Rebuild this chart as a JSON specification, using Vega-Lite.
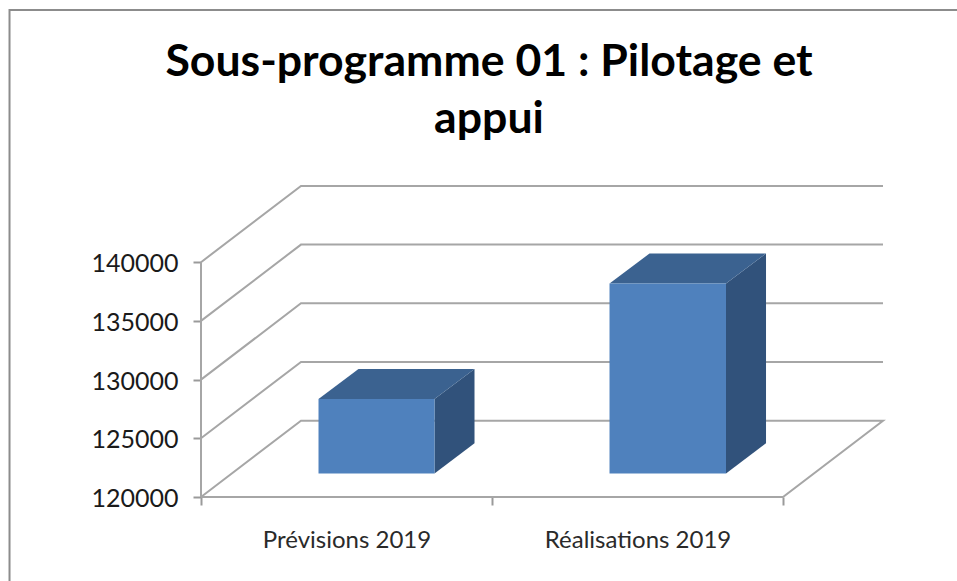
{
"$schema":"https://vega.github.io/schema/vega-lite/v6.json",
"width":682,"height":310,
"autosize":{"type":"none"},
"padding":{"left":201,"top":187,"right":74,"bottom":84},
"background":"white",
"view":{"stroke":null},
"title":{"text":["Sous-programme 01 : Pilotage et","appui"],"font":"Lato","fontWeight":"bold","fontSize":44.6,"lineHeight":57,"color":"#000000","anchor":"middle","frame":"group","dx":-53,"offset":-137},
"datasets":{
"lines":[
{"line":"border","seq":1,"x":-0.658,"y":112000},{"line":"border","seq":2,"x":-0.658,"y":161478},{"line":"border","seq":3,"x":2.6,"y":161478},
{"line":"floor","seq":1,"x":0,"y":120000},{"line":"floor","seq":2,"x":0.3436,"y":126500},{"line":"floor","seq":3,"x":2.3436,"y":126500},{"line":"floor","seq":4,"x":2,"y":120000},{"line":"floor","seq":5,"x":0,"y":120000},
{"line":"g125","seq":1,"x":0,"y":125000},{"line":"g125","seq":2,"x":0.3436,"y":131500},{"line":"g125","seq":3,"x":2.3436,"y":131500},
{"line":"g130","seq":1,"x":0,"y":130000},{"line":"g130","seq":2,"x":0.3436,"y":136500},{"line":"g130","seq":3,"x":2.3436,"y":136500},
{"line":"g135","seq":1,"x":0,"y":135000},{"line":"g135","seq":2,"x":0.3436,"y":141500},{"line":"g135","seq":3,"x":2.3436,"y":141500},
{"line":"g140","seq":1,"x":0,"y":140000},{"line":"g140","seq":2,"x":0.3436,"y":146500},{"line":"g140","seq":3,"x":2.3436,"y":146500},
{"line":"yaxis","seq":1,"x":0,"y":120000},{"line":"yaxis","seq":2,"x":0,"y":140000}
],
"frontFaces":[
{"category":"Prévisions 2019","x":0.4038,"x2":0.8024,"y":122001,"y2":128347},
{"category":"Réalisations 2019","x":1.4038,"x2":1.8041,"y":122001,"y2":138184}
],
"sideFaces":[
{"category":"Prévisions 2019","x":0.8024,"y":122001,"y2":128347},{"category":"Prévisions 2019","x":0.9399,"y":124574,"y2":130902},
{"category":"Réalisations 2019","x":1.8041,"y":122001,"y2":138184},{"category":"Réalisations 2019","x":1.9416,"y":124574,"y2":140739}
],
"topFaces":[
{"category":"Prévisions 2019","y":128347,"x":0.4038,"x2":0.8024},{"category":"Prévisions 2019","y":130902,"x":0.5412,"x2":0.9399},
{"category":"Réalisations 2019","y":138184,"x":1.4038,"x2":1.8041},{"category":"Réalisations 2019","y":140739,"x":1.5412,"x2":1.9416}
]
},
"encoding":{
"x":{"field":"x","type":"quantitative","title":null,"scale":{"domain":[0,2.3436],"nice":false,"zero":false},
"axis":{"values":[0,0.5,1,1.5,2],"grid":false,"domain":false,"tickSize":8,"tickWidth":2,"tickColor":"#9a9a9a","tickOpacity":{"condition":{"test":"datum.value==0.5||datum.value==1.5","value":0},"value":1},"labelExpr":"datum.value==0.5?'Prévisions 2019':datum.value==1.5?'Réalisations 2019':''","labelFont":"Lato","labelFontSize":24,"labelColor":"#2a2a2a","labelPadding":23,"labelLimit":400,"labelOverlap":false,"labelFlush":false}},
"y":{"field":"y","type":"quantitative","title":null,"scale":{"domain":[120000,146405],"nice":false,"zero":false},
"axis":{"values":[120000,125000,130000,135000,140000],"format":"d","grid":false,"domain":false,"tickSize":8,"tickWidth":2,"tickColor":"#9a9a9a","labelFont":"Lato","labelFontSize":25,"labelColor":"#1a1a1a","labelPadding":15,"labelOffset":1.5,"labelOverlap":false}}
},
"layer":[
{"data":{"name":"lines"},
"mark":{"type":"line","strokeWidth":2,"clip":false},
"encoding":{
"detail":{"field":"line"},
"order":{"field":"seq"},
"color":{"condition":{"test":"datum.line=='border'","value":"#8c8c8c"},"value":"#a6a6a6"}
}},
{"data":{"name":"sideFaces"},
"mark":{"type":"area","color":"#31527b","orient":"vertical"},
"encoding":{
"y2":{"field":"y2"},
"detail":{"field":"category"}
}},
{"data":{"name":"topFaces"},
"mark":{"type":"area","color":"#3b6290","orient":"horizontal"},
"encoding":{
"x2":{"field":"x2"},
"detail":{"field":"category"}
}},
{"data":{"name":"frontFaces"},
"mark":{"type":"rect","color":"#4f81bd"},
"encoding":{
"x2":{"field":"x2"},
"y2":{"field":"y2"}
}}
]
}
